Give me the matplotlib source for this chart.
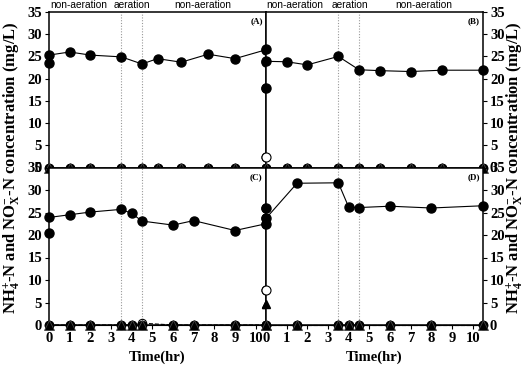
"""Four-panel NH4+/NOx- concentration time course (panels A-D)."""

import matplotlib.pyplot as plt

plt.rcParams["font.family"] = "Liberation Serif"
plt.rcParams["font.weight"] = "bold"
plt.rcParams["mathtext.fontset"] = "custom"
plt.rcParams["mathtext.rm"] = "Liberation Serif:bold"
plt.rcParams["mathtext.it"] = "Liberation Serif:bold:italic"
plt.rcParams["mathtext.bf"] = "Liberation Serif:bold"

# --- data ----------------------------------------------------------------
# panel A (top left)
tA = [0, 1, 2, 3.5, 4.5, 5.25, 6.4, 7.7, 9, 10.5]
nh4A = [25.3, 26.0, 25.3, 24.9, 23.3, 24.5, 23.7, 25.5, 24.5, 26.5]
no2A = [0, 0, 0, 0, 0, 0, 0, 0, 0, 0]
no3A = [0, 0, 0, 0, 0, 0, 0, 0, 0, 0]
extraA_t = [0, 10.5, 10.5]
extraA_v = [23.6, 23.8, 17.8]
openA_t = [10.5]
openA_v = [2.4]

# panel B (top right)
tB = [0, 1, 2, 3.5, 4.5, 5.5, 7, 8.5, 10.5]
nh4B = [23.9, 23.8, 23.1, 25.0, 22.0, 21.8, 21.6, 21.9, 21.9]
no2B = [0, 0, 0, 0, 0, 0, 0, 0, 0]
no3B = [0, 0, 0, 0, 0, 0, 0, 0, 0]
extraB_t = [0, 0]
extraB_v = [26.6, 17.8]
openB_t = [0]
openB_v = [2.4]

# panel C (bottom left)
tC = [0, 1, 2, 3.5, 4, 4.5, 6, 7, 9, 10.5]
nh4C = [23.9, 24.5, 25.1, 25.7, 24.8, 23.1, 22.2, 23.2, 21.0, 22.5]
no2C = [0, 0, 0, 0, 0, 0.4, 0, 0, 0, 0]
no3C = [0, 0, 0, 0, 0, 0, 0, 0, 0, 0]
extraC_t = [0, 10.5, 10.5]
extraC_v = [20.5, 23.7, 25.9]
openC_t = [10.5]
openC_v = [7.7]
triC_t = [10.5]
triC_v = [4.7]

# panel D (bottom right)
tD = [0, 1.5, 3.5, 4, 4.5, 6, 8, 10.5]
nh4D = [23.7, 31.5, 31.6, 26.2, 26.1, 26.4, 26.0, 26.5]
no2D = [0, 0, 0, 0, 0, 0, 0, 0]
no3D = [0, 0, 0, 0, 0, 0, 0, 0]
extraD_t = [0, 0]
extraD_v = [22.5, 25.9]
openD_t = [0]
openD_v = [7.7]
triD_t = [0]
triD_v = [4.7]

phase_edges = [3.5, 4.5]
phase_labels = ["non-aeration", "aeration", "non-aeration"]
phase_pos_left = [1.45, 4.0, 7.45]
phase_pos_right = [1.4, 4.05, 7.65]

xticks = list(range(0, 11))
yticks = list(range(0, 36, 5))

# --- figure ---------------------------------------------------------------
fig = plt.figure(figsize=(5.26, 3.74), dpi=100)

L, M, R = 49 / 526, 266 / 526, 483 / 526
T, H, B = 1 - 12 / 374, 1 - 167.5 / 374, 1 - 325 / 374

axA = fig.add_axes([L, H, M - L, T - H])
axB = fig.add_axes([M, H, R - M, T - H])
axC = fig.add_axes([L, B, M - L, H - B])
axD = fig.add_axes([M, B, R - M, H - B])

panels = [
    (axA, tA, nh4A, no2A, no3A, extraA_t, extraA_v, openA_t, openA_v, [], [], "(A)"),
    (axB, tB, nh4B, no2B, no3B, extraB_t, extraB_v, openB_t, openB_v, [], [], "(B)"),
    (axC, tC, nh4C, no2C, no3C, extraC_t, extraC_v, openC_t, openC_v, triC_t, triC_v, "(C)"),
    (axD, tD, nh4D, no2D, no3D, extraD_t, extraD_v, openD_t, openD_v, triD_t, triD_v, "(D)"),
]

mk = dict(clip_on=False, zorder=5)
for ax, t, nh4, no2, no3, ex_t, ex_v, op_t, op_v, tr_t, tr_v, tag in panels:
    ax.set_xlim(0, 10.5)
    ax.set_ylim(0, 35)
    for xe in phase_edges:
        ax.axvline(xe, color="#999999", linestyle=(0, (1, 1.5)), linewidth=0.8, zorder=1)

    ax.plot(t, no2, color="black", linewidth=0.8, linestyle="--", marker="o",
            markersize=6, markerfacecolor="white", markeredgecolor="black",
            markeredgewidth=0.8, **mk)
    ax.plot(t, no3, color="black", linewidth=0.8, marker="o", markersize=6,
            markerfacecolor="black", markeredgecolor="black", **mk)
    ax.plot(t, no3, linestyle="none", marker="^", markersize=7,
            markerfacecolor="black", markeredgecolor="#444444",
            markeredgewidth=0.6, clip_on=False, zorder=6)
    ax.plot(t, nh4, color="black", linewidth=0.8, marker="o", markersize=6.5,
            markerfacecolor="black", markeredgecolor="black", **mk)
    ax.plot(ex_t, ex_v, linestyle="none", marker="o", markersize=6.5,
            markerfacecolor="black", markeredgecolor="black", **mk)
    ax.plot(op_t, op_v, linestyle="none", marker="o", markersize=6.5,
            markerfacecolor="white", markeredgecolor="black",
            markeredgewidth=0.8, **mk)
    if tr_t:
        ax.plot(tr_t, tr_v, linestyle="none", marker="^", markersize=6,
                markerfacecolor="black", markeredgecolor="black", **mk)

    ax.text(0.985, 0.965, tag, transform=ax.transAxes, ha="right", va="top",
            fontsize=6.5, fontweight="bold")

    for sp in ax.spines.values():
        sp.set_linewidth(1.1)
    ax.tick_params(direction="out", length=3, width=0.8, labelsize=10.5,
                   pad=2, top=False, right=False, left=False, bottom=False,
                   labelleft=False, labelbottom=False)

# phase labels above the top panels
for ax, pos in ((axA, phase_pos_left), (axB, phase_pos_right)):
    for xp, txt in zip(pos, phase_labels):
        ax.text(xp, 35.4, txt, ha="center", va="bottom", fontsize=7.3,
                family="Liberation Sans", fontweight="normal")

# y ticks: left for A and C, right for B and D
for ax in (axA, axC):
    ax.set_yticks(yticks)
    ax.tick_params(axis="y", left=True, labelleft=True)
for ax in (axB, axD):
    ax.set_yticks(yticks)
    ax.tick_params(axis="y", right=True, labelright=True)

# x ticks on bottom panels
for ax in (axC, axD):
    ax.set_xticks(xticks)
    ax.tick_params(axis="x", bottom=True, labelbottom=True)
    ax.set_xlabel("Time(hr)", fontsize=10.5, fontweight="bold", labelpad=4)

ylab = r"NH$_{\mathrm{4}}^{\mathrm{+}}$-N and NO$_{\mathrm{X}}^{\mathrm{-}}$-N concentration (mg/L)"
fig.text(12 / 526, H, ylab, rotation=90, ha="center", va="center",
         fontsize=12, fontweight="bold")
fig.text(515 / 526, H, ylab, rotation=90, ha="center", va="center",
         fontsize=12, fontweight="bold")

fig.savefig("out.png", dpi=100)
